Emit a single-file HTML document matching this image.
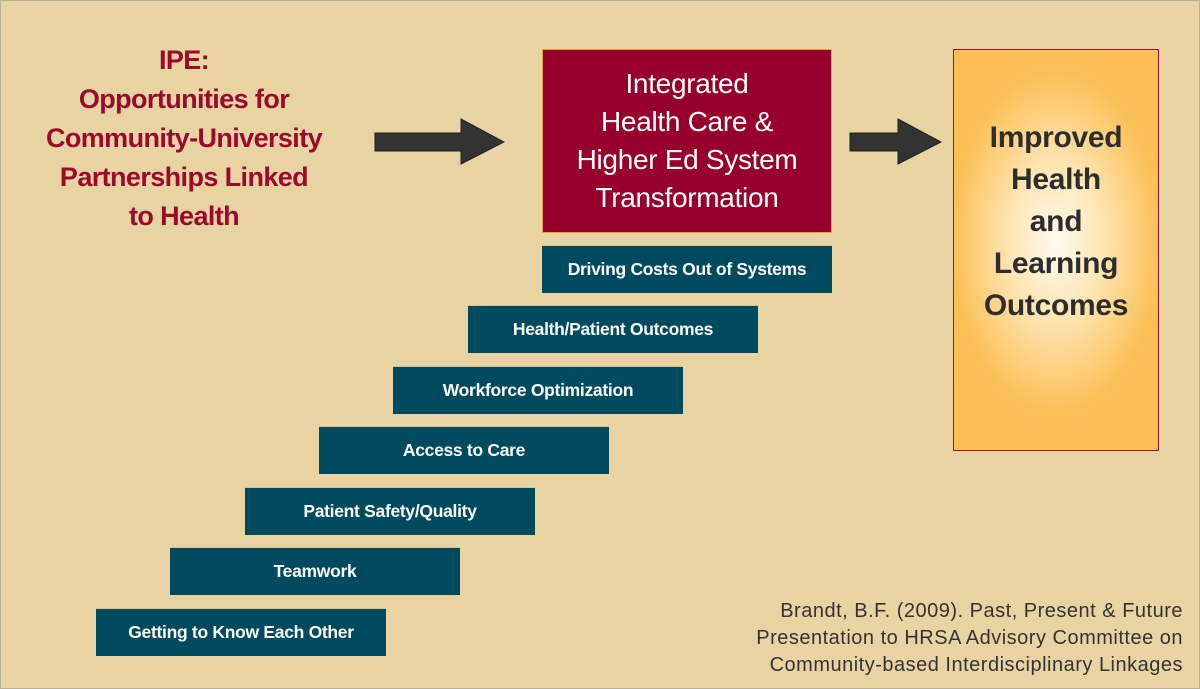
<!DOCTYPE html>
<html><head><meta charset="utf-8"><style>
*{margin:0;padding:0;box-sizing:border-box}
body{width:1200px;height:689px;background:#e8d4a3;position:relative;overflow:hidden;font-family:"Liberation Sans",sans-serif;border:1px solid #b8ad95}
.a{position:absolute}
.ipe{left:0px;top:40px;width:366px;text-align:center;color:#9b0a2d;font-weight:bold;font-size:27px;line-height:39px;letter-spacing:-0.6px;white-space:nowrap}
.red{left:541px;top:48px;width:290px;height:184px;background:#96002b;border:1px solid #e6a640;color:#fff;font-size:28px;line-height:38px;text-align:center;padding-top:15px;letter-spacing:-0.3px}
.or{left:952px;top:48px;width:206px;height:402px;border:1.5px solid #a5102e;background:radial-gradient(ellipse 60% 50% at 50% 48%,#fffaf0 0%,#fee4b0 40%,#fcc058 85%,#fcbe55 100%);color:#2d2d2d;font-weight:bold;font-size:30px;line-height:42px;text-align:center;padding-top:67px;letter-spacing:-0.3px}
.st{width:290px;height:48px;background:#004a60;color:#fff;font-weight:bold;font-size:17.5px;display:flex;align-items:center;justify-content:center;letter-spacing:-0.3px;border-top:1px solid #d9c090}
.cite{right:16px;top:597px;text-align:right;color:#333;font-size:20px;line-height:27px;letter-spacing:0.5px;white-space:nowrap}
</style></head><body>
<div class="a ipe">IPE:<br>Opportunities for<br>Community-University<br>Partnerships Linked<br>to Health</div>
<svg class="a" style="left:370px;top:114px" width="140" height="52"><polygon points="4,18 90,18 90,4 133,27 90,49 90,36 4,36" fill="#333" stroke="#222"/></svg>
<svg class="a" style="left:846px;top:114px" width="100" height="52"><polygon points="3,18 51,18 51,4 94,27 51,49 51,36 3,36" fill="#333" stroke="#222"/></svg>
<div class="a red">Integrated<br>Health Care &amp;<br>Higher Ed System<br>Transformation</div>
<div class="a or">Improved<br>Health<br>and<br>Learning<br>Outcomes</div>
<div class="a st" style="left:541px;top:244px">Driving Costs Out of Systems</div>
<div class="a st" style="left:467px;top:304px">Health/Patient Outcomes</div>
<div class="a st" style="left:392px;top:365px">Workforce Optimization</div>
<div class="a st" style="left:318px;top:425px">Access to Care</div>
<div class="a st" style="left:244px;top:486px">Patient Safety/Quality</div>
<div class="a st" style="left:169px;top:546px">Teamwork</div>
<div class="a st" style="left:95px;top:607px">Getting to Know Each Other</div>
<div class="a cite">Brandt, B.F. (2009). Past, Present &amp; Future<br>Presentation to HRSA Advisory Committee on<br>Community-based Interdisciplinary Linkages</div>
</body></html>
